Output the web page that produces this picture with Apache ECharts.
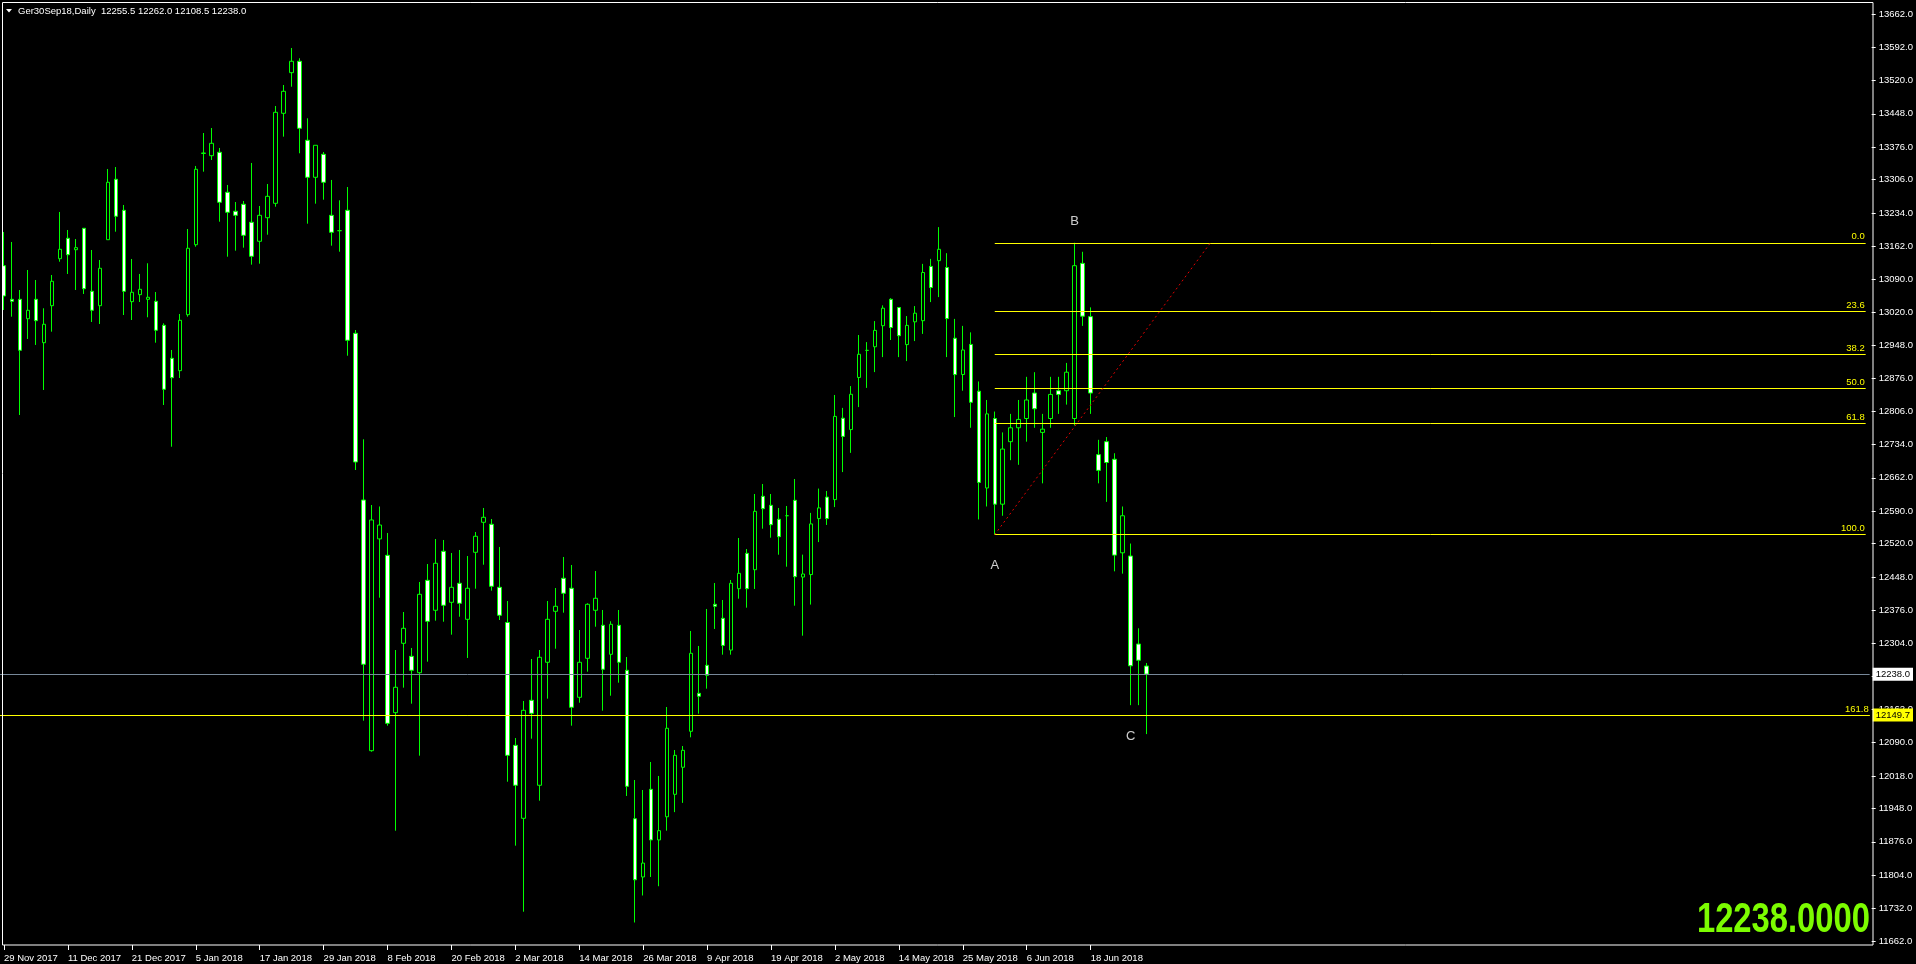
<!DOCTYPE html>
<html>
<head>
<meta charset="utf-8">
<title>Ger30Sep18, Daily</title>
<script src="https://cdn.jsdelivr.net/npm/echarts@6/dist/echarts.min.js"></script>
<style>
  html, body { margin: 0; padding: 0; background: #000; overflow: hidden; }
  #chart { width: 1916px; height: 964px; }
</style>
</head>
<body>
<div id="chart"></div>
<script>
// ---- instrument ----
const symbolName = 'Ger30Sep18';
const timeframe = 'Daily';

// ---- time axis: one label every 8 bars, starting at bar 0 ----
const tickEvery = 8;
const tickLabels = ['29 Nov 2017', '11 Dec 2017', '21 Dec 2017', '5 Jan 2018', '17 Jan 2018',
  '29 Jan 2018', '8 Feb 2018', '20 Feb 2018', '2 Mar 2018', '14 Mar 2018', '26 Mar 2018',
  '9 Apr 2018', '19 Apr 2018', '2 May 2018', '14 May 2018', '25 May 2018', '6 Jun 2018', '18 Jun 2018'];

// ---- daily OHLC ----
const open = [
  13120.0, 13047.4, 13047.4, 13005.5, 13047.4, 12953.7, 13033.6, 13135.1, 13179.2, 13154.5,
  13200.8, 13064.7, 13033.6, 13176.1, 13306.6, 13239.6, 13042.3, 13057.4, 13047.4, 13043.1,
  12991.3, 12920.0, 12893.3, 13014.2, 13165.3, 13362.3, 13357.5, 13364.9, 13278.5, 13237.5,
  13252.6, 13213.7, 13172.7, 13223.6, 13254.7, 13449.1, 13536.8, 13561.4, 13390.8, 13310.9,
  13360.5, 13228.8, 13195.6, 13239.6, 12974.0, 12614.0, 12072.7, 12530.0, 12494.6, 12154.8,
  12304.6, 12276.5, 12241.1, 12440.6, 12375.9, 12503.3, 12393.1, 12434.2, 12356.4, 12501.1,
  12565.9, 12561.6, 12425.5, 12349.5, 12084.3, 11926.7, 12181.5, 11998.0, 12263.6, 12373.7,
  12445.0, 12423.4, 12188.0, 12272.2, 12375.9, 12343.5, 12280.8, 12343.5, 12246.3, 11925.8,
  11800.0, 11989.3, 11880.0, 11930.0, 11978.5, 12036.9, 12114.6, 12196.6, 12257.1, 12388.8,
  12358.6, 12290.0, 12422.5, 12498.9, 12463.5, 12622.0, 12602.6, 12572.4, 12580.1, 12613.4,
  12447.6, 12453.0, 12573.9, 12620.3, 12614.9, 12790.7, 12766.1, 12878.6, 12937.1, 12944.9,
  12990.4, 13047.4, 13029.7, 12949.6, 12998.8, 13001.2, 13118.5, 13130.8, 13116.1, 12963.4,
  12885.0, 12950.0, 12849.0, 12640.0, 12790.0, 12605.0, 12740.0, 12770.0, 12790.0, 12845.0,
  12760.0, 12790.0, 12850.0, 12850.0, 12790.0, 13125.0, 13010.0, 12712.0, 12740.0, 12702.0,
  12500.0, 12493.0, 12303.0, 12255.5
];
const high = [
  13192.8, 13171.2, 13067.5, 13110.7, 13089.1, 13028.0, 13099.9, 13236.0, 13197.1, 13177.6,
  13201.4, 13153.9, 13132.3, 13328.8, 13333.1, 13251.1, 13134.5, 13102.1, 13125.2, 13063.2,
  12995.6, 12938.0, 13015.7, 13199.2, 13335.3, 13406.5, 13417.3, 13374.2, 13294.3, 13257.5,
  13259.7, 13341.8, 13248.9, 13296.4, 13464.8, 13510.2, 13590.1, 13567.9, 13438.3, 13380.0,
  13365.5, 13305.1, 13261.2, 13289.9, 12981.1, 12745.1, 12603.2, 12600.0, 12542.8, 12290.1,
  12372.2, 12294.5, 12437.0, 12475.8, 12529.8, 12527.7, 12499.6, 12506.1, 12493.1, 12544.9,
  12596.8, 12573.0, 12512.6, 12395.9, 12100.1, 12180.0, 12270.7, 12290.1, 12395.9, 12424.0,
  12491.0, 12473.7, 12333.3, 12391.0, 12460.7, 12376.5, 12352.1, 12376.5, 12275.0, 12009.4,
  11987.8, 12048.3, 12018.1, 12167.0, 12074.2, 12082.8, 12331.2, 12298.8, 12378.7, 12434.8,
  12398.1, 12441.3, 12532.0, 12508.2, 12627.0, 12648.6, 12627.0, 12596.8, 12601.1, 12659.4,
  12496.1, 12586.2, 12638.7, 12633.5, 12840.8, 12812.9, 12860.0, 12970.3, 12955.0, 13000.4,
  13034.3, 13049.8, 13029.7, 13011.2, 13032.8, 13123.9, 13134.7, 13203.3, 13147.0, 13005.1,
  12990.0, 12976.0, 12870.0, 12830.0, 12805.0, 12760.0, 12800.0, 12830.0, 12880.0, 12890.0,
  12800.0, 12880.0, 12880.0, 12910.0, 13169.5, 13150.0, 13030.0, 12744.0, 12750.0, 12715.0,
  12600.0, 12520.0, 12337.0, 12262.0
];
const low = [
  13024.3, 13009.9, 12797.6, 12961.7, 12948.8, 12851.6, 12977.5, 13128.6, 13102.1, 13067.5,
  13058.9, 12998.4, 12994.1, 13176.1, 13193.4, 13013.5, 13002.7, 13041.6, 13008.6, 12953.7,
  12819.2, 12729.1, 12877.5, 13009.9, 13161.0, 13323.0, 13348.2, 13215.0, 13139.4, 13152.4,
  13158.9, 13122.2, 13124.3, 13186.9, 13247.4, 13398.6, 13506.5, 13362.7, 13210.7, 13253.9,
  13262.5, 13163.2, 13150.2, 12925.6, 12678.8, 12137.5, 12070.5, 12403.1, 12126.7, 11899.9,
  12208.8, 12174.2, 12061.9, 12264.9, 12353.4, 12351.2, 12323.2, 12362.0, 12272.9, 12422.5,
  12474.3, 12418.2, 12354.9, 12005.7, 11867.6, 11725.0, 12098.6, 11964.7, 12185.0, 12292.9,
  12370.7, 12126.7, 12176.3, 12243.3, 12340.4, 12159.1, 12191.4, 12219.5, 11974.9, 11701.7,
  11760.0, 11800.0, 11780.0, 11900.0, 11940.0, 11960.0, 12101.6, 12152.6, 12206.6, 12335.5,
  12280.0, 12280.0, 12400.9, 12381.5, 12421.9, 12552.1, 12532.6, 12495.9, 12470.0, 12385.8,
  12321.0, 12388.2, 12523.1, 12560.1, 12598.7, 12674.3, 12715.8, 12814.7, 12856.1, 12890.2,
  12922.6, 12959.5, 12922.6, 12914.0, 12957.2, 12972.7, 13041.4, 13052.2, 12922.6, 12793.1,
  12850.0, 12770.0, 12572.0, 12600.0, 12539.2, 12580.0, 12700.0, 12690.0, 12740.0, 12770.0,
  12650.0, 12770.0, 12800.0, 12820.0, 12775.0, 12990.0, 12800.0, 12650.0, 12610.0, 12460.0,
  12455.0, 12171.0, 12171.0, 12108.5
];
const close = [
  13054.6, 13043.1, 12937.3, 13023.7, 13001.2, 12993.5, 13086.3, 13155.4, 13143.7, 13158.9,
  13070.3, 13023.7, 13114.4, 13300.1, 13226.7, 13064.7, 13062.6, 13069.0, 13051.8, 12980.5,
  12853.1, 12878.1, 13002.1, 13157.6, 13328.2, 13363.4, 13384.3, 13256.9, 13235.3, 13228.8,
  13185.6, 13140.3, 13228.8, 13269.8, 13451.2, 13496.6, 13561.4, 13416.7, 13310.9, 13380.0,
  13300.1, 13192.1, 13195.6, 12958.9, 12696.1, 12259.3, 12570.9, 12560.0, 12131.8, 12209.6,
  12337.0, 12246.3, 12410.4, 12352.1, 12477.4, 12386.7, 12425.5, 12391.0, 12423.4, 12535.7,
  12576.7, 12427.7, 12365.1, 12062.7, 11998.0, 12159.9, 12153.4, 12274.4, 12356.4, 12384.5,
  12412.6, 12166.4, 12263.6, 12388.8, 12401.8, 12248.5, 12345.6, 12263.6, 11995.8, 11793.9,
  11830.0, 11880.0, 11900.0, 12121.1, 12062.7, 12073.5, 12283.0, 12190.2, 12235.5, 12384.5,
  12300.0, 12434.2, 12455.7, 12422.5, 12589.6, 12595.3, 12560.7, 12534.8, 12580.1, 12448.4,
  12454.2, 12562.4, 12597.0, 12573.9, 12794.6, 12751.4, 12842.3, 12928.7, 12937.1, 12980.3,
  13028.2, 12986.5, 12968.8, 12991.1, 13017.4, 13105.3, 13072.9, 13155.4, 13005.8, 12884.8,
  12938.0, 12825.0, 12652.0, 12800.0, 12605.0, 12724.0, 12770.0, 12788.0, 12830.0, 12811.0,
  12767.0, 12842.0, 12842.0, 12890.0, 13120.0, 13011.0, 12845.0, 12678.0, 12695.0, 12495.0,
  12580.0, 12256.0, 12268.0, 12238.0
];

// ---- price scale ----
const priceMin = 11653.1;
const priceMax = 13689.4;
const priceTicks = [13662, 13592, 13520, 13448, 13376, 13306, 13234, 13162, 13090, 13020,
  12948, 12876, 12806, 12734, 12662, 12590, 12520, 12448, 12376, 12304, 12233, 12162,
  12090, 12018, 11948, 11876, 11804, 11732, 11662];

// ---- Fibonacci retracement, anchored at the A low and the B high ----
const fibLevels = [0.0, 23.6, 38.2, 50.0, 61.8, 100.0];
const fibLowBar = 124, fibLowPrice = 12539.2;
const fibHighBar = 151, fibHighPrice = 13169.5;
// horizontal line at the 161.8 extension
const extLevel = 161.8;
const extPrice = 12149.7;

// ---- wave labels ----
const waveNames = ['A', 'B', 'C'];
const waveBars = [124, 134, 141];
const wavePrices = [12473.7, 13216.5, 12104.4];

// ---- layout ----
const slotCount = 234;           // visible bar slots, 8 px each
const lastBar = open.length - 1;
const FONT = '"Liberation Sans", Arial, sans-serif';
const LIME = '#00ff00';
const YELLOW = '#ffff00';

const categories = Array.from({ length: slotCount }, (_, i) => String(i));
const candles = open.map((o, i) => [o, close[i], low[i], high[i]]);
const isLabelBar = (i) => i % tickEvery === 0 && i / tickEvery < tickLabels.length;

const fibLines = fibLevels.map((lvl) => {
  const price = fibHighPrice - lvl / 100 * (fibHighPrice - fibLowPrice);
  return [
    { coord: [String(fibLowBar), price], label: { formatter: lvl.toFixed(1) } },
    { coord: [String(slotCount - 1), price] }
  ];
});

const lineLabelStyle = {
  show: true, position: 'insideEndTop', distance: [1, 1],
  color: YELLOW, fontSize: 9.5, fontFamily: FONT
};

const boxLabel = (text, bg) => ({
  show: true, position: 'end', distance: 3, formatter: text,
  backgroundColor: bg, color: '#000', fontSize: 9.5, fontFamily: FONT,
  padding: [2, 3, 1, 3]
});

const chart = echarts.init(document.getElementById('chart'), null, { renderer: 'canvas' });

const option = {
  backgroundColor: '#000',
  animation: false,
  grid: { left: -0.8, top: 2, width: slotCount * 8, height: 943 },
  xAxis: {
    type: 'category',
    data: categories,
    boundaryGap: true,
    axisLine: { show: false },
    axisTick: {
      show: true, alignWithLabel: true, length: 5,
      interval: (i) => isLabelBar(i),
      lineStyle: { color: '#fff', width: 1 }
    },
    axisLabel: {
      interval: (i) => isLabelBar(i),
      formatter: (v, i) => tickLabels[i / tickEvery],
      align: 'left', color: '#fff', fontSize: 9.5, fontFamily: FONT, margin: 8
    },
    splitLine: { show: false }
  },
  yAxis: {
    type: 'value',
    position: 'right',
    offset: 2,
    min: priceMin,
    max: priceMax,
    axisLine: { show: false },
    axisTick: { show: true, length: 4, customValues: priceTicks, lineStyle: { color: '#fff' } },
    axisLabel: {
      customValues: priceTicks,
      formatter: (v) => v.toFixed(1),
      color: '#fff', fontSize: 9.5, fontFamily: FONT, margin: 7
    },
    splitLine: { show: false }
  },
  series: [
    {
      // drawing objects: price lines, Fibonacci levels, base line
      type: 'line',
      data: [],
      z: 1,
      silent: true,
      markLine: {
        silent: true,
        symbol: ['none', 'none'],
        animation: false,
        data: [
          ...fibLines,
          {
            yAxis: extPrice,
            lineStyle: { color: YELLOW, width: 1, type: 'solid' },
            label: { ...lineLabelStyle, formatter: extLevel.toFixed(1) }
          },
          {
            yAxis: extPrice,
            lineStyle: { color: YELLOW, width: 1, type: 'solid' },
            label: boxLabel(extPrice.toFixed(1), YELLOW)
          },
          {
            yAxis: close[lastBar],
            lineStyle: { color: '#778899', width: 1, type: 'solid' },
            label: boxLabel(close[lastBar].toFixed(1), '#ffffff')
          },
          [
            { coord: [String(fibLowBar), fibLowPrice], lineStyle: { color: '#e00000', width: 1, type: [2, 3] }, label: { show: false } },
            { coord: [String(fibHighBar), fibHighPrice] }
          ]
        ],
        lineStyle: { color: YELLOW, width: 1, type: 'solid' },
        label: lineLabelStyle
      }
    },
    {
      type: 'candlestick',
      data: candles,
      z: 3,
      barWidth: 4,
      itemStyle: {
        color: '#000000',
        color0: '#ffffff',
        borderColor: LIME,
        borderColor0: LIME,
        borderColorDoji: LIME,
        borderWidth: 1
      }
    },
    {
      type: 'scatter',
      z: 4,
      symbolSize: 1,
      itemStyle: { color: 'rgba(0,0,0,0)' },
      data: waveNames.map((n, i) => ({ name: n, value: [String(waveBars[i]), wavePrices[i]] })),
      label: {
        show: true, position: 'inside', formatter: '{b}',
        color: '#ffffff', fontSize: 13, fontFamily: FONT
      }
    }
  ],
  graphic: [
    {
      // chart frame
      type: 'rect', silent: true, z: 10,
      shape: { x: 2.5, y: 2.5, width: 1870.5, height: 942.5 },
      style: { fill: null, stroke: '#ffffff', lineWidth: 1 }
    },
    {
      type: 'polygon', silent: true, z: 10,
      shape: { points: [[6, 9], [12, 9], [9, 12.5]] },
      style: { fill: '#ffffff' }
    },
    {
      type: 'text', silent: true, z: 10, x: 18, y: 11,
      style: {
        text: symbolName + ',' + timeframe + '  ' +
          [open[lastBar], high[lastBar], low[lastBar], close[lastBar]].map((v) => v.toFixed(1)).join(' '),
        fill: '#ffffff', font: '9.5px ' + FONT, verticalAlign: 'middle', align: 'left'
      }
    },
    {
      type: 'text', silent: true, z: 10, x: 1870, y: 920, scaleX: 0.78,
      style: {
        text: close[lastBar].toFixed(4),
        fill: '#7cfc00', font: 'bold 42px ' + FONT, align: 'right', verticalAlign: 'middle'
      }
    }
  ]
};

chart.setOption(option);
</script>
</body>
</html>
